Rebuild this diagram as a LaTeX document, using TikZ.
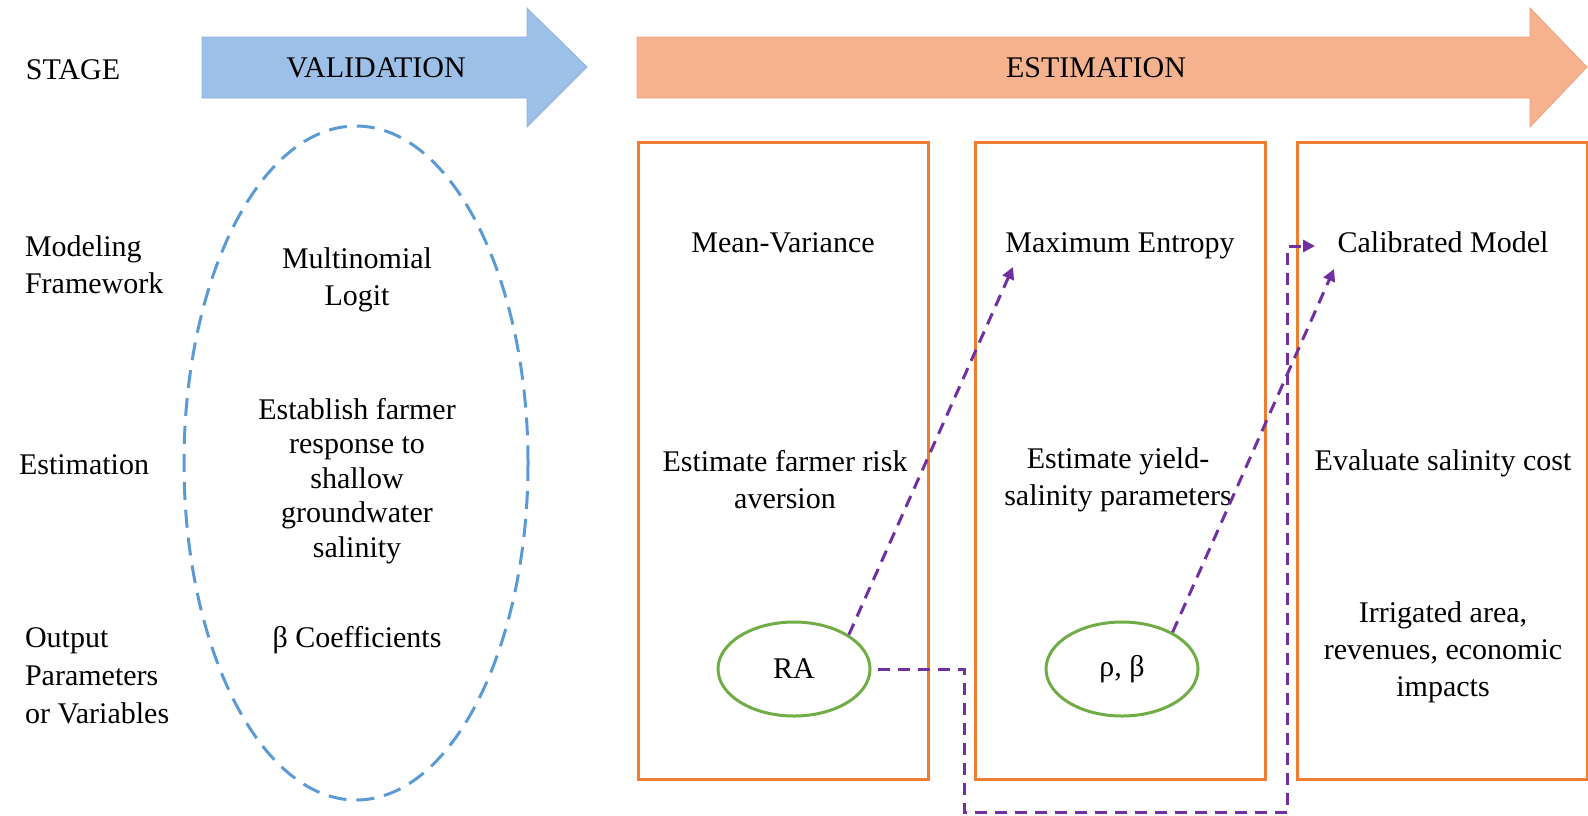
\documentclass[tikz,border=0pt]{standalone}
\usepackage{fontspec}
\setmainfont{Liberation Serif}
\usepackage{tikz}
\usetikzlibrary{arrows.meta,shapes.geometric}

\definecolor{stageblue}{RGB}{157,192,232}
\definecolor{stageblueline}{RGB}{143,180,226}
\definecolor{stageorange}{RGB}{244,178,142}
\definecolor{stageorangeline}{RGB}{242,162,122}
\definecolor{validblue}{RGB}{91,155,213}
\definecolor{boxorange}{RGB}{237,125,49}
\definecolor{paramgreen}{RGB}{112,173,71}
\definecolor{linkpurple}{RGB}{112,48,160}

\tikzset{
  rowlabel/.style={align=left, anchor=west},
  celltext/.style={align=center},
  stagebox/.style={draw=boxorange, line width=1.5pt},
  param/.style={draw=paramgreen, line width=1.5pt, ellipse, minimum width=76pt, minimum height=47pt},
  link/.style={draw=linkpurple, line width=1.5pt, dash pattern=on 6pt off 4pt,
    -{Triangle[length=6pt,width=6pt]}},
}

\begin{document}
\begin{tikzpicture}[x=0.5pt, y=-0.5pt, font=\fontsize{15}{18.5}\selectfont]

\useasboundingbox (0,0) rectangle (1588,815);

\fill[stageblue, draw=stageblueline] (202,37) -- (527,37) -- (527,8) -- (587,67)
    -- (527,127) -- (527,98) -- (202,98) -- cycle;
\fill[stageorange, draw=stageorangeline] (637,37) -- (1530,37) -- (1530,8) -- (1587,67)
    -- (1530,127) -- (1530,98) -- (637,98) -- cycle;

\node (stage) at (73,70) {STAGE};
\node (valid) at (376,68) {VALIDATION};
\node (estim) at (1096,68) {ESTIMATION};

\node[rowlabel] (model) at (18,265) {Modeling\\Framework};
\node[rowlabel] (estlab) at (12,465) {Estimation};
\node[rowlabel, font=\fontsize{15}{19}\selectfont] (output) at (18,676) {Output\\Parameters\\or Variables};

\draw[validblue, line width=1.5pt, dash pattern=on 9pt off 5pt] (356,463) ellipse [x radius=172, y radius=337];

\node[celltext] (mnl) at (357,280) {Multinomial\\Logit};
\node[celltext, font=\fontsize{15}{17.25}\selectfont] (resp) at (357,481) {Establish farmer\\response to\\shallow\\groundwater\\salinity};
\node[celltext] (coef) at (357,640) {β Coefficients};

\foreach \x in {638,975,1297}
    \draw[stagebox] (\x,142) rectangle ++(290,637);

\node[anchor=base] (mv) at (783,252) {Mean-Variance};
\node[anchor=base] (me) at (1120,252) {Maximum Entropy};
\node[anchor=base] (cm) at (1443,252) {Calibrated Model};

\node[celltext] (risk) at (785,480) {Estimate farmer risk\\aversion};
\node[celltext] (yield) at (1118,480) {Estimate yield-\\salinity parameters};
\node[anchor=base] (cost) at (1443,470) {Evaluate salinity cost};

\node[param] (ra) at (794,669) {RA};
\node[param] (rb) at (1122,669) {ρ, β};
\node[celltext] (impact) at (1443,652) {Irrigated area,\\revenues, economic\\impacts};

\coordinate (tipme) at (1013,267);
\coordinate (tipcm) at (1334,269);
\coordinate (tipcmh) at (1315,246);
\coordinate (lowl) at (964,812);
\coordinate (lowr) at (1287,812);

\draw[link] (ra.32) -- (tipme);
\draw[link] (rb.36) -- (tipcm);
\draw[link, shorten <=3pt] (ra.east) -| (lowl) -- (lowr) |- (tipcmh);

\end{tikzpicture}
\end{document}
